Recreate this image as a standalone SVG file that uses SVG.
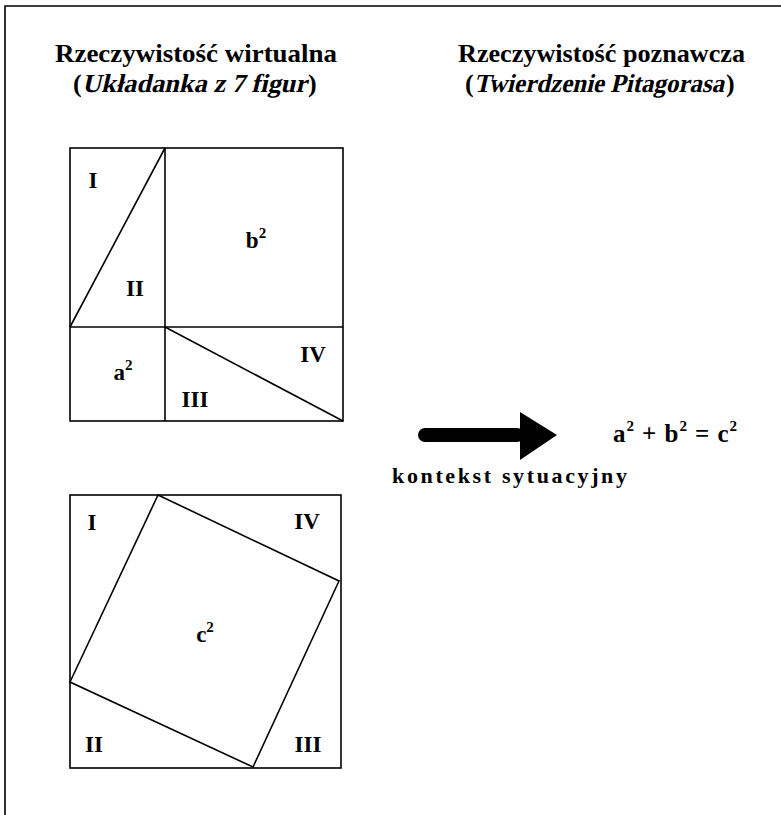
<svg xmlns="http://www.w3.org/2000/svg" width="781" height="815" viewBox="0 0 781 815">
<style>
.ln{fill:none;stroke:#000;stroke-width:1.6;stroke-linejoin:miter}
.t{font-family:"Liberation Serif","Times New Roman",serif;font-weight:bold;fill:#000}
.lab{font-family:"Liberation Serif","Times New Roman",serif;font-weight:bold;font-size:23px;fill:#000;text-anchor:middle}
.sup{font-size:15px}
</style>
<rect width="781" height="815" fill="#fff"/>
<g id="frame">
<path class="ln" d="M5,830 V6 H790"/>
</g>
<g id="title-left">
<text class="t" x="55" y="62" font-size="26" textLength="282" lengthAdjust="spacingAndGlyphs">Rzeczywistość wirtualna</text>
<text class="t" x="73" y="92" font-size="26">(</text>
<text class="t" font-size="26" transform="translate(82,92) skewX(-13)" x="0" y="0" textLength="225" lengthAdjust="spacingAndGlyphs">Układanka z 7 figur</text>
<text class="t" x="308" y="92" font-size="26">)</text>
</g>
<g id="title-right">
<text class="t" x="458" y="62" font-size="26" textLength="287" lengthAdjust="spacingAndGlyphs">Rzeczywistość poznawcza</text>
<text class="t" x="465" y="92" font-size="26">(</text>
<text class="t" font-size="26" transform="translate(474,92) skewX(-13)" x="0" y="0" textLength="250" lengthAdjust="spacingAndGlyphs">Twierdzenie Pitagorasa</text>
<text class="t" x="726" y="92" font-size="26">)</text>
</g>
<g id="puzzle-top">
<rect class="ln" x="70" y="148" width="273" height="273"/>
<line class="ln" x1="165" y1="148" x2="165" y2="421"/>
<line class="ln" x1="70" y1="327" x2="343" y2="327"/>
<line class="ln" x1="70" y1="327" x2="165" y2="148"/>
<line class="ln" x1="165" y1="327" x2="343" y2="421"/>
<text class="lab" x="93" y="188">I</text>
<text class="lab" x="135" y="296">II</text>
<text class="lab" x="256" y="248">b<tspan class="sup" dy="-10">2</tspan></text>
<text class="lab" x="123" y="380">a<tspan class="sup" dy="-10">2</tspan></text>
<text class="lab" x="313" y="362">IV</text>
<text class="lab" x="195" y="407">III</text>
</g>
<g id="puzzle-bottom">
<rect class="ln" x="70" y="495" width="271" height="273"/>
<polygon class="ln" points="158,495 339,581 253,767 70,682"/>
<text class="lab" x="92" y="530">I</text>
<text class="lab" x="307" y="529">IV</text>
<text class="lab" x="205" y="642">c<tspan class="sup" dy="-10">2</tspan></text>
<text class="lab" x="94" y="752">II</text>
<text class="lab" x="308" y="752">III</text>
</g>
<g id="connectors">
<rect x="418" y="428" width="106" height="14" rx="7" fill="#000"/>
<polygon points="520,412 557,435 520,460" fill="#000"/>
</g>
<g id="arrow-label">
<text class="t" x="392" y="483" font-size="22" textLength="235" lengthAdjust="spacing">kontekst sytuacyjny</text>
</g>
<g id="formula">
<text class="t" x="613" y="442" font-size="25" textLength="124" lengthAdjust="spacing">a<tspan class="sup" font-size="16" dy="-11">2</tspan><tspan dy="11"> + b</tspan><tspan class="sup" font-size="16" dy="-11">2</tspan><tspan dy="11"> = c</tspan><tspan class="sup" font-size="16" dy="-11">2</tspan></text>
</g>
</svg>
